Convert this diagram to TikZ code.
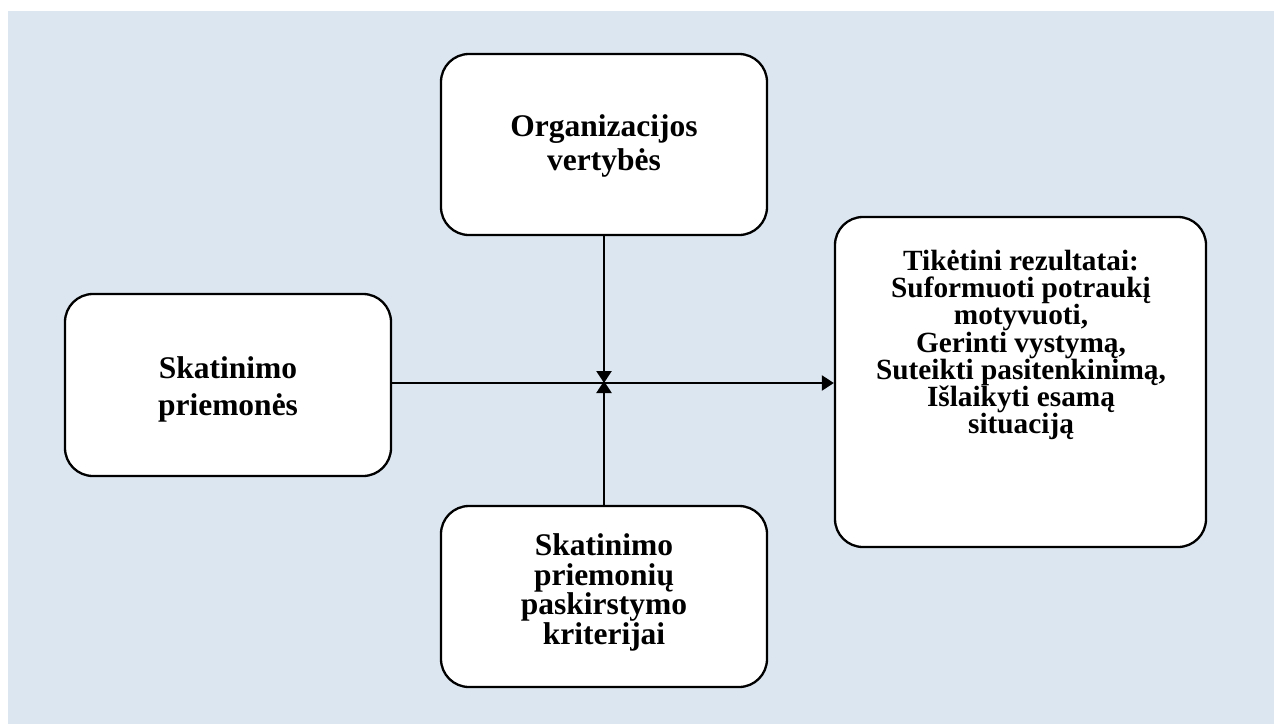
\documentclass[tikz,border=0pt]{standalone}
\usepackage{fontspec}
\setmainfont{Liberation Serif}
\usetikzlibrary{arrows.meta}
\definecolor{bgblue}{RGB}{220,230,241}
\begin{document}
\begin{tikzpicture}[x=1pt,y=-1pt,
  box/.style={draw=black, line width=2.3pt, fill=white, rounded corners=28pt, inner sep=0pt},
  txt/.style 2 args={font=\bfseries\fontsize{#1}{#2}\selectfont, align=center, inner sep=0pt},
  conn/.style={line width=2.3pt, -{Triangle[length=12pt,width=15pt]}}]
\useasboundingbox (0,0) rectangle (1274,724);
\fill[bgblue] (8,11) rectangle (1274,724);
\node[box, minimum width=326pt, minimum height=181pt] (org) at (604,144.5) {};
\node[txt={31.5}{34}] (orgt) at (604,145.5) {Organizacijos\\vertybės};
\node[box, minimum width=326pt, minimum height=182pt] (sk) at (228,385) {};
\node[txt={31.5}{37}] (skt) at (228,389) {Skatinimo\\priemonės};
\node[box, minimum width=326pt, minimum height=181pt] (kr) at (604,596.5) {};
\node[txt={31.5}{29.5}] (krt) at (604,592.5) {Skatinimo\\priemonių\\paskirstymo\\kriterijai};
\node[box, minimum width=371pt, minimum height=330pt] (res) at (1020.5,382) {};
\node[txt={29.3}{27.3}] (rest) at (1021,345) {Tikėtini rezultatai:\\Suformuoti potraukį\\motyvuoti,\\Gerinti vystymą,\\Suteikti pasitenkinimą,\\Išlaikyti esamą\\situaciją};
\coordinate (j) at (604,383);
\draw[conn] (sk.east |- j) -- (res.west |- j);
\draw[conn] (org.south -| j) -- (j);
\draw[conn] (kr.north -| j) -- ([yshift=2pt]j);
\end{tikzpicture}
\end{document}
